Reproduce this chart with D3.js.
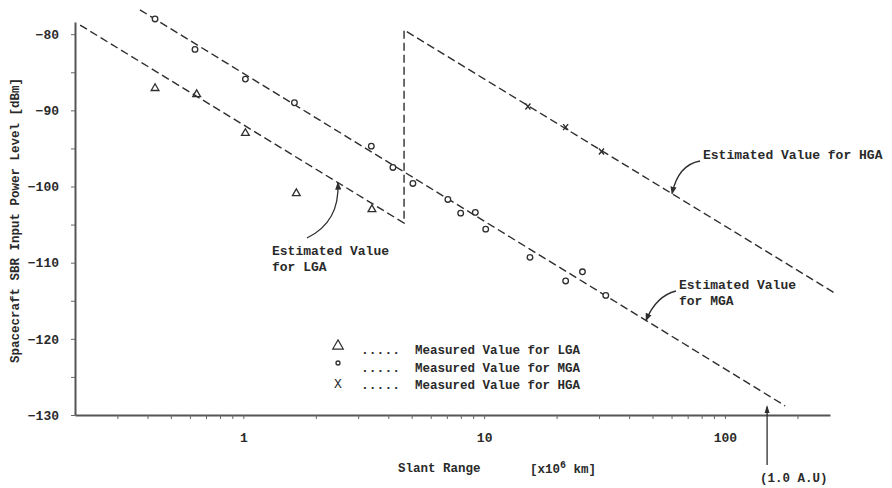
<!DOCTYPE html>
<html>
<head>
<meta charset="utf-8">
<script src="https://cdn.jsdelivr.net/npm/d3@7"></script>
<style>
  html, body { margin: 0; padding: 0; background: #fff; }
  svg text { font-family: "Liberation Mono", "Courier New", monospace; font-weight: bold; fill: #2a2a2a; }
</style>
</head>
<body>
<svg id="chart" width="892" height="488"></svg>
<script>
// Slant range [x10^6 km] and received level [dBm]
const lgaMeasX = [0.43, 0.64, 1.02, 1.66, 3.42];
const lgaMeasY = [-87.1, -87.9, -93.0, -100.9, -103.0];

const mgaMeasX = [0.43, 0.63, 1.02, 1.63, 3.40, 4.18, 5.06, 7.07, 7.99, 9.19, 10.15, 15.5, 21.8, 25.6, 32.0];
const mgaMeasY = [-78.0, -82.0, -85.9, -89.0, -94.7, -97.5, -99.6, -101.7, -103.5, -103.4, -105.6, -109.3, -112.4, -111.2, -114.3];

const hgaMeasX = [15.2, 21.8, 30.7];
const hgaMeasY = [-89.5, -92.2, -95.4];

// Estimated level: LGA up to the antenna switch, then HGA
const lgaHgaEstX = [0.21, 4.65, 4.65, 286];
const lgaHgaEstY = [-78.8, -104.8, -79.45, -114.0];

// Estimated level for MGA
const mgaEstX = [0.372, 177.8];
const mgaEstY = [-76.8, -128.8];

const xTickMajor = [1, 10, 100];
const xTickMinor = [0.3, 0.4, 0.5, 0.6, 0.7, 0.8, 0.9, 2, 3, 4, 5, 6, 7, 8, 9, 20, 30, 40, 50, 60, 70, 80, 90, 200];
const yTickMajor = [-80, -90, -100, -110, -120, -130];
const yTickMinor = [-85, -95, -105, -115, -125];

const AU_KM6 = 149.6; // 1.0 A.U. in 10^6 km

const legendItems = ["Measured Value for LGA", "Measured Value for MGA", "Measured Value for HGA"];

const svg = d3.select("#chart");
const ink = "#2e2e2e";

const x = d3.scaleLog().domain([0.2, 273]).range([75, 830]);
const y = d3.scaleLinear().domain([-130, -78.4]).range([415, 22]);

// Axes
const xAxis = d3.axisBottom(x).tickValues(xTickMajor.concat(xTickMinor))
  .tickFormat(d => xTickMajor.includes(d) ? d3.format("d")(d) : "")
  .tickSizeInner(4).tickSizeOuter(0).tickPadding(14);
const gx = svg.append("g").attr("transform", `translate(0,${y(-130)})`).call(xAxis);

const yAxis = d3.axisLeft(y).tickValues(yTickMajor.concat(yTickMinor))
  .tickFormat(d => yTickMajor.includes(d) ? d3.format("d")(d) : "")
  .tickSizeInner(4).tickSizeOuter(0).tickPadding(12);
const gy = svg.append("g").attr("transform", `translate(${x(0.2)},0)`).call(yAxis);

[gx, gy].forEach(g => {
  g.select(".domain").attr("stroke", "#555").attr("stroke-width", 2);
  g.selectAll(".tick line").attr("stroke", "#666").attr("stroke-width", 1);
  g.selectAll(".tick text").attr("font-size", 13).style("font-family", '"Liberation Mono", monospace')
    .style("font-weight", "bold").attr("fill", ink);
});

// Axis titles
svg.append("text")
  .attr("transform", `translate(19,${(y(-130) + y(-78.4)) / 2 + 2}) rotate(-90)`)
  .attr("text-anchor", "middle").attr("font-size", 12.5)
  .text("Spacecraft SBR Input Power Level [dBm]");

svg.append("text").attr("x", 398).attr("y", 472).attr("font-size", 12.5).text("Slant Range");
const unit = svg.append("text").attr("x", 530).attr("y", 473).attr("font-size", 12.5);
unit.append("tspan").text("[x10");
unit.append("tspan").attr("dy", -5).attr("font-size", 10).text("6");
unit.append("tspan").attr("dy", 5).text(" km]");

// 1.0 A.U. marker
svg.append("line")
  .attr("x1", x(AU_KM6)).attr("x2", x(AU_KM6))
  .attr("y1", y(-130) + 50).attr("y2", y(-130) - 8)
  .attr("stroke", ink).attr("stroke-width", 1.3);
svg.append("path")
  .attr("d", `M${x(AU_KM6)},${y(-130) - 10} l-2.5,8 l5,0 z`)
  .attr("fill", ink);
svg.append("text").attr("x", x(AU_KM6) - 7).attr("y", 482).attr("font-size", 12.5).text("(1.0 A.U)");

// Estimated lines
const line = d3.line().x(d => x(d[0])).y(d => y(d[1]));
const est1 = lgaHgaEstX.map((v, i) => [v, lgaHgaEstY[i]]);
const est2 = mgaEstX.map((v, i) => [v, mgaEstY[i]]);
[est1, est2].forEach(pts => {
  svg.append("path").attr("d", line(pts))
    .attr("fill", "none").attr("stroke", ink).attr("stroke-width", 1.4)
    .attr("stroke-dasharray", "8,4");
});

// Measured points
const mk = ink;
const triSym = d3.symbol().type(d3.symbolTriangle).size(26);
svg.append("g").selectAll("path").data(lgaMeasX.map((v, i) => [v, lgaMeasY[i]])).join("path")
  .attr("d", triSym)
  .attr("transform", d => `translate(${x(d[0])},${y(d[1])})`)
  .attr("fill", "none").attr("stroke", mk).attr("stroke-width", 1.3);

svg.append("g").selectAll("circle").data(mgaMeasX.map((v, i) => [v, mgaMeasY[i]])).join("circle")
  .attr("cx", d => x(d[0])).attr("cy", d => y(d[1])).attr("r", 2.8)
  .attr("fill", "#fff").attr("stroke", mk).attr("stroke-width", 1.3);

svg.append("g").selectAll("path").data(hgaMeasX.map((v, i) => [v, hgaMeasY[i]])).join("path")
  .attr("d", "M-2.5,-3 L2.5,3 M2.5,-3 L-2.5,3")
  .attr("transform", d => `translate(${x(d[0])},${y(d[1])})`)
  .attr("fill", "none").attr("stroke", mk).attr("stroke-width", 1.4);

// Annotations: label with a curved leader to the estimated line
function yOnLine(pts, xv) {
  for (let i = 0; i < pts.length - 1; i++) {
    const a = pts[i], b = pts[i + 1];
    if (a[0] !== b[0] && xv >= Math.min(a[0], b[0]) && xv <= Math.max(a[0], b[0])) {
      const t = (Math.log10(xv) - Math.log10(a[0])) / (Math.log10(b[0]) - Math.log10(a[0]));
      return a[1] + t * (b[1] - a[1]);
    }
  }
  return null;
}

svg.append("defs").append("marker")
  .attr("id", "tip").attr("viewBox", "0 0 10 10").attr("refX", 9).attr("refY", 5)
  .attr("markerWidth", 6).attr("markerHeight", 6).attr("orient", "auto")
  .append("path").attr("d", "M0,1 L10,5 L0,9 z").attr("fill", ink);

const annotations = [
  { lines: ["Estimated Value for HGA"], tx: 703, ty: 159, pts: est1, at: 60.3, from: [700, 161], ctrl: [678, 165] },
  { lines: ["Estimated Value", "for MGA"], tx: 679, ty: 289, pts: est2, at: 47.0, from: [676, 291], ctrl: [656, 296] },
  { lines: ["Estimated Value", "for LGA"], tx: 272, ty: 255, pts: est1, at: 2.47, from: [307, 238], ctrl: [340, 222] }
];

annotations.forEach(a => {
  const tipX = x(a.at), tipY = y(yOnLine(a.pts, a.at));
  svg.append("path")
    .attr("d", `M${a.from[0]},${a.from[1]} Q${a.ctrl[0]},${a.ctrl[1]} ${tipX},${tipY}`)
    .attr("fill", "none").attr("stroke", ink).attr("stroke-width", 1.3)
    .attr("marker-end", "url(#tip)");
  const t = svg.append("text").attr("x", a.tx).attr("y", a.ty).attr("font-size", 13);
  a.lines.forEach((s, i) => t.append("tspan").attr("x", a.tx).attr("dy", i === 0 ? 0 : 16).text(s));
});

// Legend
const lg = svg.append("g").attr("transform", "translate(338,350)");
lg.append("path").attr("d", d3.symbol().type(d3.symbolTriangle).size(48)())
  .attr("transform", "translate(0,-4)")
  .attr("fill", "none").attr("stroke", ink).attr("stroke-width", 1.2);
lg.append("circle").attr("cx", 0).attr("cy", 13).attr("r", 2)
  .attr("fill", "none").attr("stroke", ink).attr("stroke-width", 1.3);
lg.append("text").attr("x", 0).attr("y", 38).attr("text-anchor", "middle").attr("font-size", 13)
  .style("font-weight", "normal").text("X");
legendItems.forEach((s, i) => {
  lg.append("text").attr("x", 23).attr("y", 4 + i * 17.5).attr("font-size", 13).text(".....");
  lg.append("text").attr("x", 77).attr("y", 4 + i * 17.5).attr("font-size", 12.5).text(s);
});
</script>
</body>
</html>
